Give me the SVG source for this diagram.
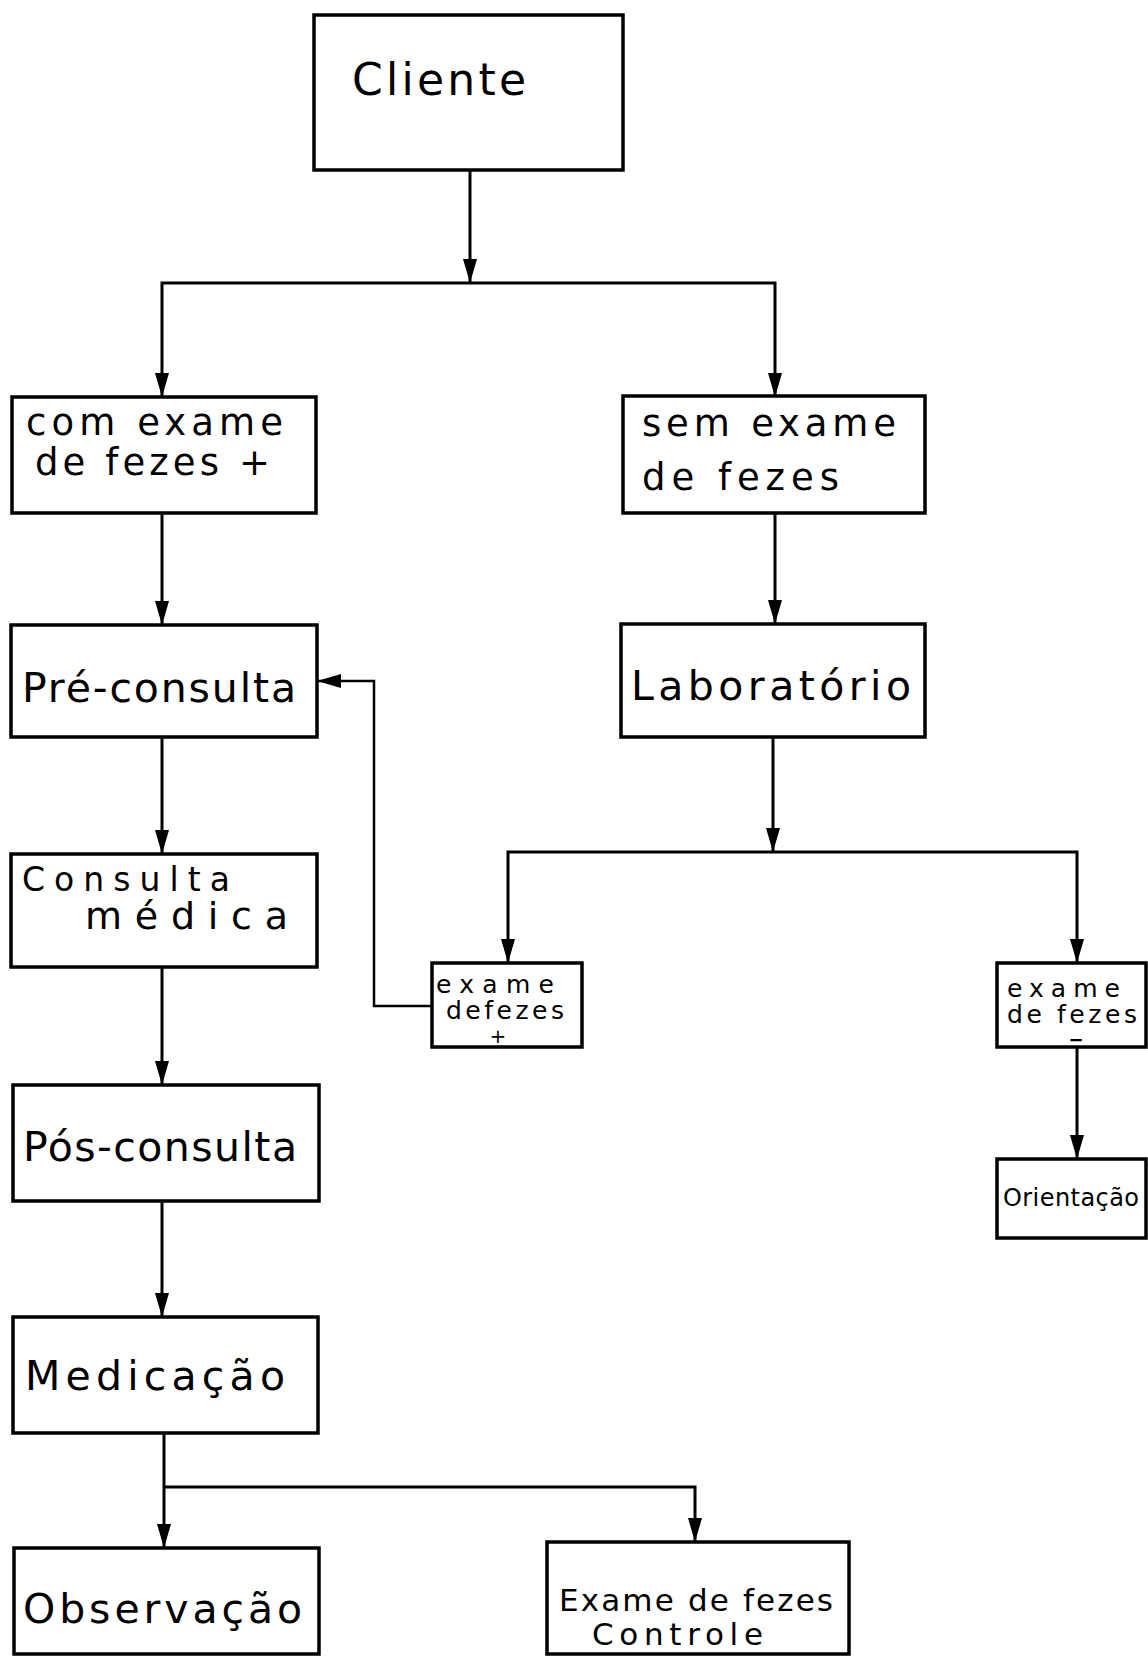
<svg xmlns="http://www.w3.org/2000/svg" width="1148" height="1656" viewBox="0 0 1148 1656">
  <style>
    .box { fill: #ffffff; stroke: #000000; stroke-width: 3.5; }
    .wire { fill: none; stroke: #000000; stroke-width: 3; }
    .thin { fill: none; stroke: #000000; stroke-width: 2.5; }
    text { font-family: "DejaVu Sans", "Liberation Sans", sans-serif; fill: #000000; }
    .xl { font-size: 44px; }
    .lg { font-size: 41px; }
    .md { font-size: 37px; }
    .sm { font-size: 31px; }
    .xs { font-size: 25px; }
    .sign { font-size: 20px; }
  </style>
  <defs>
    <marker id="arrow" viewBox="0 0 24 14" refX="24" refY="7" markerWidth="24" markerHeight="14" markerUnits="userSpaceOnUse" orient="auto-start-reverse">
      <path d="M0 0 L24 7 L0 14 Z" fill="#000000"/>
    </marker>
  </defs>
  <rect width="1148" height="1656" fill="#ffffff"/>

  <!-- connectors -->
  <g id="connectors">
    <path class="wire" d="M470 169 V283" marker-end="url(#arrow)"/>
    <path class="wire" d="M162 397 V283 H775 V397" marker-start="url(#arrow)" marker-end="url(#arrow)"/>
    <path class="wire" d="M162 513 V625" marker-end="url(#arrow)"/>
    <path class="wire" d="M162 737 V854" marker-end="url(#arrow)"/>
    <path class="wire" d="M162 967 V1085" marker-end="url(#arrow)"/>
    <path class="wire" d="M162 1201 V1317" marker-end="url(#arrow)"/>
    <path class="wire" d="M164 1433 V1548" marker-end="url(#arrow)"/>
    <path class="wire" d="M164 1487 H695 V1542" marker-end="url(#arrow)"/>
    <path class="wire" d="M775 513 V624" marker-end="url(#arrow)"/>
    <path class="wire" d="M773 737 V852" marker-end="url(#arrow)"/>
    <path class="wire" d="M508 963 V852 H1077 V963" marker-start="url(#arrow)" marker-end="url(#arrow)"/>
    <path class="wire" d="M1077 1047 V1159" marker-end="url(#arrow)"/>
    <path class="thin" d="M432 1006 H374 V681 H317" marker-end="url(#arrow)"/>
  </g>

  <g id="cliente">
    <rect class="box" x="314" y="15" width="309" height="155"/>
    <text class="xl" x="352" y="95" textLength="174" lengthAdjust="spacing">Cliente</text>
  </g>

  <g id="com-exame">
    <rect class="box" x="12" y="397" width="304" height="116"/>
    <text class="md" x="26" y="435" textLength="257" lengthAdjust="spacing">com exame</text>
    <text class="md" x="35" y="475" textLength="235" lengthAdjust="spacing">de fezes +</text>
  </g>

  <g id="sem-exame">
    <rect class="box" x="623" y="396" width="302" height="117"/>
    <text class="md" x="642" y="436" textLength="254" lengthAdjust="spacing">sem exame</text>
    <text class="md" x="642" y="490" textLength="197" lengthAdjust="spacing">de fezes</text>
  </g>

  <g id="pre-consulta">
    <rect class="box" x="11" y="625" width="306" height="112"/>
    <text class="lg" x="22" y="702" textLength="274" lengthAdjust="spacing">Pré-consulta</text>
  </g>

  <g id="laboratorio">
    <rect class="box" x="621" y="624" width="304" height="113"/>
    <text class="lg" x="631" y="700" textLength="280" lengthAdjust="spacing">Laboratório</text>
  </g>

  <g id="consulta-medica">
    <rect class="box" x="11" y="854" width="306" height="113"/>
    <text x="22" y="891" font-size="33" textLength="208" lengthAdjust="spacing">Consulta</text>
    <text x="85" y="929" font-size="38" textLength="203" lengthAdjust="spacing">médica</text>
  </g>

  <g id="exame-positivo">
    <rect class="box" x="432" y="963" width="150" height="84"/>
    <text class="xs" x="436" y="993" textLength="118" lengthAdjust="spacing">exame</text>
    <text class="xs" x="446" y="1019" textLength="118" lengthAdjust="spacing">defezes</text>
    <text class="sign" x="498" y="1043" text-anchor="middle">+</text>
  </g>

  <g id="exame-negativo">
    <rect class="box" x="997" y="963" width="149" height="84"/>
    <text class="xs" x="1007" y="997" textLength="113" lengthAdjust="spacing">exame</text>
    <text class="xs" x="1007" y="1023" textLength="130" lengthAdjust="spacing">de fezes</text>
    <text x="1076" y="1046" font-size="18" text-anchor="middle" font-weight="bold">−</text>
  </g>

  <g id="orientacao">
    <rect class="box" x="997" y="1159" width="149" height="79"/>
    <text x="1003" y="1206" font-size="24" textLength="136" lengthAdjust="spacing">Orientação</text>
  </g>

  <g id="pos-consulta">
    <rect class="box" x="13" y="1085" width="306" height="116"/>
    <text class="lg" x="23" y="1161" textLength="274" lengthAdjust="spacing">Pós-consulta</text>
  </g>

  <g id="medicacao">
    <rect class="box" x="13" y="1317" width="305" height="116"/>
    <text class="lg" x="25" y="1390" textLength="260" lengthAdjust="spacing">Medicação</text>
  </g>

  <g id="observacao">
    <rect class="box" x="14" y="1548" width="305" height="106"/>
    <text class="lg" x="23" y="1623" textLength="279" lengthAdjust="spacing">Observação</text>
  </g>

  <g id="exame-controle">
    <rect class="box" x="547" y="1542" width="302" height="112"/>
    <text class="sm" x="559" y="1611" textLength="274" lengthAdjust="spacing">Exame de fezes</text>
    <text class="sm" x="592" y="1645" textLength="171" lengthAdjust="spacing">Controle</text>
  </g>
</svg>
